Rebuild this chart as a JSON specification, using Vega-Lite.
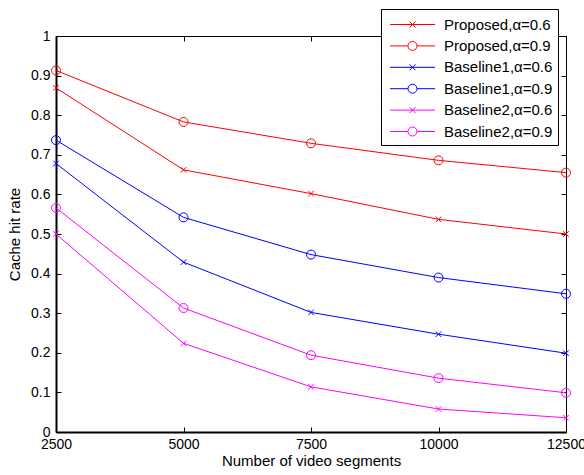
{
  "$schema": "https://vega.github.io/schema/vega-lite/v6.json",
  "autosize": {"type": "none"},
  "padding": {"left": 56, "top": 36, "right": 18, "bottom": 43},
  "width": 510,
  "height": 396,
  "background": "white",
  "config": {
    "view": {"stroke": "black", "strokeWidth": 1},
    "font": "Liberation Sans",
    "axis": {
      "grid": false,
      "domainColor": "black",
      "tickColor": "black",
      "labelColor": "black",
      "titleColor": "black",
      "labelFont": "Liberation Sans",
      "titleFont": "Liberation Sans",
      "labelFontSize": 14,
      "titleFontSize": 15,
      "titleFontWeight": "normal",
      "tickSize": -5,
      "tickWidth": 1,
      "ticks": true,
      "labelFlush": false
    },
    "legend": {
      "labelFont": "Liberation Sans",
      "labelFontSize": 15,
      "labelColor": "black"
    }
  },
  "data": {
    "values": [
      {"series": "Proposed,α=0.6", "segments": 2500, "rate": 0.869},
      {"series": "Proposed,α=0.6", "segments": 5000, "rate": 0.662},
      {"series": "Proposed,α=0.6", "segments": 7500, "rate": 0.602},
      {"series": "Proposed,α=0.6", "segments": 10000, "rate": 0.537},
      {"series": "Proposed,α=0.6", "segments": 12500, "rate": 0.500},
      {"series": "Proposed,α=0.9", "segments": 2500, "rate": 0.913},
      {"series": "Proposed,α=0.9", "segments": 5000, "rate": 0.783},
      {"series": "Proposed,α=0.9", "segments": 7500, "rate": 0.729},
      {"series": "Proposed,α=0.9", "segments": 10000, "rate": 0.686},
      {"series": "Proposed,α=0.9", "segments": 12500, "rate": 0.655},
      {"series": "Baseline1,α=0.6", "segments": 2500, "rate": 0.678},
      {"series": "Baseline1,α=0.6", "segments": 5000, "rate": 0.429},
      {"series": "Baseline1,α=0.6", "segments": 7500, "rate": 0.302},
      {"series": "Baseline1,α=0.6", "segments": 10000, "rate": 0.247},
      {"series": "Baseline1,α=0.6", "segments": 12500, "rate": 0.199},
      {"series": "Baseline1,α=0.9", "segments": 2500, "rate": 0.737},
      {"series": "Baseline1,α=0.9", "segments": 5000, "rate": 0.542},
      {"series": "Baseline1,α=0.9", "segments": 7500, "rate": 0.448},
      {"series": "Baseline1,α=0.9", "segments": 10000, "rate": 0.390},
      {"series": "Baseline1,α=0.9", "segments": 12500, "rate": 0.349},
      {"series": "Baseline2,α=0.6", "segments": 2500, "rate": 0.500},
      {"series": "Baseline2,α=0.6", "segments": 5000, "rate": 0.224},
      {"series": "Baseline2,α=0.6", "segments": 7500, "rate": 0.114},
      {"series": "Baseline2,α=0.6", "segments": 10000, "rate": 0.058},
      {"series": "Baseline2,α=0.6", "segments": 12500, "rate": 0.036},
      {"series": "Baseline2,α=0.9", "segments": 2500, "rate": 0.566},
      {"series": "Baseline2,α=0.9", "segments": 5000, "rate": 0.313},
      {"series": "Baseline2,α=0.9", "segments": 7500, "rate": 0.194},
      {"series": "Baseline2,α=0.9", "segments": 10000, "rate": 0.136},
      {"series": "Baseline2,α=0.9", "segments": 12500, "rate": 0.099}
    ]
  },
  "layer": [
    {
      "mark": {"type": "line", "strokeWidth": 1},
      "encoding": {
        "x": {
          "field": "segments", "type": "quantitative",
          "scale": {"domain": [2500, 12500], "nice": false, "zero": false},
          "axis": {
            "orient": "bottom",
            "values": [2500, 5000, 7500, 10000, 12500],
            "format": "d",
            "title": "Number of video segments",
            "domainWidth": 2,
            "tickSize": -5,
            "labelPadding": 10,
            "titlePadding": 2
          }
        },
        "y": {
          "field": "rate", "type": "quantitative",
          "scale": {"domain": [0, 1], "nice": false, "zero": true},
          "axis": {
            "orient": "left",
            "values": [0, 0.1, 0.2, 0.3, 0.4, 0.5, 0.6, 0.7, 0.8, 0.9, 1],
            "format": "~g",
            "title": "Cache hit rate",
            "domainWidth": 2,
            "tickSize": -5,
            "labelPadding": 11,
            "titlePadding": 8
          }
        },
        "color": {
          "field": "series", "type": "nominal",
          "scale": {
            "domain": ["Proposed,α=0.6", "Proposed,α=0.9", "Baseline1,α=0.6", "Baseline1,α=0.9", "Baseline2,α=0.6", "Baseline2,α=0.9"],
            "range": ["#ff0000", "#ff0000", "#0000ff", "#0000ff", "#ff00ff", "#ff00ff"]
          },
          "legend": {
            "title": null,
            "orient": "none",
            "legendX": 325,
            "legendY": -27,
            "fillColor": "white",
            "strokeColor": "black",
            "padding": 5,
            "symbolSize": 400,
            "symbolOffset": 16,
            "labelOffset": 21,
            "rowPadding": 2.4,
            "symbolStrokeWidth": 1,
            "encode": {
              "symbols": {
                "update": {
                  "shape": {"signal": "indexof(datum.value, '0.6') >= 0 ? 'M-2.25,0H2.25M-0.3,-0.3L0.3,0.3M-0.3,0.3L0.3,-0.3' : 'M-2.25,0H-0.45M0.45,0H2.25M-0.45,0A0.45,0.45 0 1,0 0.45,0A0.45,0.45 0 1,0 -0.45,0'"},
                  "fill": {"value": "transparent"}
                }
              }
            }
          }
        },
        "detail": {"field": "series"}
      }
    },
    {
      "transform": [{"filter": "indexof(datum.series, '0.6') >= 0"}],
      "mark": {"type": "point", "filled": false, "size": 81, "strokeWidth": 1, "opacity": 1, "shape": "M-0.62,-0.62L0.62,0.62M-0.62,0.62L0.62,-0.62"},
      "encoding": {
        "x": {"field": "segments", "type": "quantitative", "axis": null},
        "y": {"field": "rate", "type": "quantitative", "axis": null},
        "color": {
          "field": "series", "type": "nominal",
          "legend": {
            "title": null,
            "orient": "none",
            "legendX": 325,
            "legendY": -27,
            "fillColor": "white",
            "strokeColor": "black",
            "padding": 5,
            "symbolSize": 400,
            "symbolOffset": 16,
            "labelOffset": 21,
            "rowPadding": 2.4,
            "symbolStrokeWidth": 1,
            "encode": {
              "symbols": {
                "update": {
                  "shape": {"signal": "indexof(datum.value, '0.6') >= 0 ? 'M-2.25,0H2.25M-0.3,-0.3L0.3,0.3M-0.3,0.3L0.3,-0.3' : 'M-2.25,0H-0.45M0.45,0H2.25M-0.45,0A0.45,0.45 0 1,0 0.45,0A0.45,0.45 0 1,0 -0.45,0'"},
                  "fill": {"value": "transparent"}
                }
              }
            }
          }
        }
      }
    },
    {
      "transform": [{"filter": "indexof(datum.series, '0.9') >= 0"}],
      "mark": {"type": "point", "filled": false, "size": 81, "strokeWidth": 1, "opacity": 1, "shape": "circle"},
      "encoding": {
        "x": {"field": "segments", "type": "quantitative", "axis": null},
        "y": {"field": "rate", "type": "quantitative", "axis": null},
        "color": {
          "field": "series", "type": "nominal",
          "legend": {
            "title": null,
            "orient": "none",
            "legendX": 325,
            "legendY": -27,
            "fillColor": "white",
            "strokeColor": "black",
            "padding": 5,
            "symbolSize": 400,
            "symbolOffset": 16,
            "labelOffset": 21,
            "rowPadding": 2.4,
            "symbolStrokeWidth": 1,
            "encode": {
              "symbols": {
                "update": {
                  "shape": {"signal": "indexof(datum.value, '0.6') >= 0 ? 'M-2.25,0H2.25M-0.3,-0.3L0.3,0.3M-0.3,0.3L0.3,-0.3' : 'M-2.25,0H-0.45M0.45,0H2.25M-0.45,0A0.45,0.45 0 1,0 0.45,0A0.45,0.45 0 1,0 -0.45,0'"},
                  "fill": {"value": "transparent"}
                }
              }
            }
          }
        }
      }
    },
    {
      "mark": {"type": "point", "opacity": 0},
      "encoding": {
        "x": {
          "field": "segments", "type": "quantitative",
          "axis": {
            "orient": "top",
            "values": [2500, 5000, 7500, 10000, 12500],
            "labels": false,
            "title": null,
            "ticks": true,
            "tickSize": -5,
            "domain": true,
            "domainColor": "black",
            "domainWidth": 1
          }
        },
        "y": {
          "field": "rate", "type": "quantitative",
          "axis": {
            "orient": "right",
            "values": [0, 0.1, 0.2, 0.3, 0.4, 0.5, 0.6, 0.7, 0.8, 0.9, 1],
            "labels": false,
            "title": null,
            "ticks": true,
            "tickSize": -5,
            "domain": true,
            "domainColor": "black",
            "domainWidth": 1
          }
        }
      }
    }
  ],
  "resolve": {"axis": {"x": "independent", "y": "independent"}}
}
